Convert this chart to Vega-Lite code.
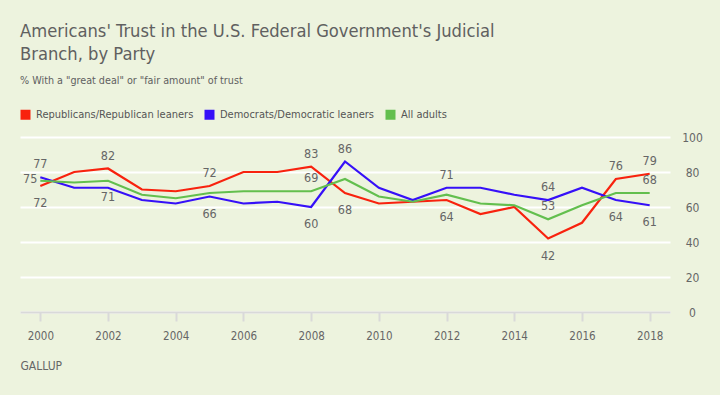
{
  "$schema": "https://vega.github.io/schema/vega-lite/v6.json",
  "autosize": "none",
  "width": 650,
  "height": 175,
  "padding": {"left": 20, "top": 137, "right": 50, "bottom": 83},
  "background": "#edf3de",
  "title": {
    "text": ["Americans' Trust in the U.S. Federal Government's Judicial", "Branch, by Party"],
    "subtitle": "% With a \"great deal\" or \"fair amount\" of trust",
    "anchor": "start",
    "frame": "group",
    "font": "DejaVu Sans Condensed, Liberation Sans, sans-serif",
    "fontSize": 18.2,
    "fontWeight": "normal",
    "color": "#606060",
    "lineHeight": 22.7,
    "subtitleFont": "DejaVu Sans Condensed, Liberation Sans, sans-serif",
    "subtitleFontSize": 10.7,
    "subtitleColor": "#606060",
    "subtitlePadding": 12,
    "offset": 22
  },
  "config": {
    "view": {"stroke": null},
    "font": "DejaVu Sans Condensed, Liberation Sans, sans-serif"
  },
  "data": {
    "values": [
      {"year": 2000, "party": "Republicans/Republican leaners", "value": 72},
      {"year": 2001, "party": "Republicans/Republican leaners", "value": 80},
      {"year": 2002, "party": "Republicans/Republican leaners", "value": 82},
      {"year": 2003, "party": "Republicans/Republican leaners", "value": 70},
      {"year": 2004, "party": "Republicans/Republican leaners", "value": 69},
      {"year": 2005, "party": "Republicans/Republican leaners", "value": 72},
      {"year": 2006, "party": "Republicans/Republican leaners", "value": 80},
      {"year": 2007, "party": "Republicans/Republican leaners", "value": 80},
      {"year": 2008, "party": "Republicans/Republican leaners", "value": 83},
      {"year": 2009, "party": "Republicans/Republican leaners", "value": 68},
      {"year": 2010, "party": "Republicans/Republican leaners", "value": 62},
      {"year": 2011, "party": "Republicans/Republican leaners", "value": 63},
      {"year": 2012, "party": "Republicans/Republican leaners", "value": 64},
      {"year": 2013, "party": "Republicans/Republican leaners", "value": 56},
      {"year": 2014, "party": "Republicans/Republican leaners", "value": 60},
      {"year": 2015, "party": "Republicans/Republican leaners", "value": 42},
      {"year": 2016, "party": "Republicans/Republican leaners", "value": 51},
      {"year": 2017, "party": "Republicans/Republican leaners", "value": 76},
      {"year": 2018, "party": "Republicans/Republican leaners", "value": 79},
      {"year": 2000, "party": "Democrats/Democratic leaners", "value": 77},
      {"year": 2001, "party": "Democrats/Democratic leaners", "value": 71},
      {"year": 2002, "party": "Democrats/Democratic leaners", "value": 71},
      {"year": 2003, "party": "Democrats/Democratic leaners", "value": 64},
      {"year": 2004, "party": "Democrats/Democratic leaners", "value": 62},
      {"year": 2005, "party": "Democrats/Democratic leaners", "value": 66},
      {"year": 2006, "party": "Democrats/Democratic leaners", "value": 62},
      {"year": 2007, "party": "Democrats/Democratic leaners", "value": 63},
      {"year": 2008, "party": "Democrats/Democratic leaners", "value": 60},
      {"year": 2009, "party": "Democrats/Democratic leaners", "value": 86},
      {"year": 2010, "party": "Democrats/Democratic leaners", "value": 71},
      {"year": 2011, "party": "Democrats/Democratic leaners", "value": 64},
      {"year": 2012, "party": "Democrats/Democratic leaners", "value": 71},
      {"year": 2013, "party": "Democrats/Democratic leaners", "value": 71},
      {"year": 2014, "party": "Democrats/Democratic leaners", "value": 67},
      {"year": 2015, "party": "Democrats/Democratic leaners", "value": 64},
      {"year": 2016, "party": "Democrats/Democratic leaners", "value": 71},
      {"year": 2017, "party": "Democrats/Democratic leaners", "value": 64},
      {"year": 2018, "party": "Democrats/Democratic leaners", "value": 61},
      {"year": 2000, "party": "All adults", "value": 75},
      {"year": 2001, "party": "All adults", "value": 74},
      {"year": 2002, "party": "All adults", "value": 75},
      {"year": 2003, "party": "All adults", "value": 67},
      {"year": 2004, "party": "All adults", "value": 65},
      {"year": 2005, "party": "All adults", "value": 68},
      {"year": 2006, "party": "All adults", "value": 69},
      {"year": 2007, "party": "All adults", "value": 69},
      {"year": 2008, "party": "All adults", "value": 69},
      {"year": 2009, "party": "All adults", "value": 76},
      {"year": 2010, "party": "All adults", "value": 66},
      {"year": 2011, "party": "All adults", "value": 63},
      {"year": 2012, "party": "All adults", "value": 67},
      {"year": 2013, "party": "All adults", "value": 62},
      {"year": 2014, "party": "All adults", "value": 61},
      {"year": 2015, "party": "All adults", "value": 53},
      {"year": 2016, "party": "All adults", "value": 61},
      {"year": 2017, "party": "All adults", "value": 68},
      {"year": 2018, "party": "All adults", "value": 68}
    ]
  },
  "encoding": {
    "x": {
      "field": "year",
      "type": "quantitative",
      "scale": {"domain": [1999.4, 2018.6], "nice": false, "zero": false},
      "axis": {
        "values": [2000, 2002, 2004, 2006, 2008, 2010, 2012, 2014, 2016, 2018],
        "format": "d",
        "grid": false,
        "domainColor": "#d9d9d9",
        "domainWidth": 2,
        "tickColor": "#d9d9d9",
        "tickWidth": 2,
        "tickSize": 9,
        "labelPadding": 9,
        "labelFontSize": 11.5,
        "labelColor": "#666666",
        "zindex": 1,
        "title": "GALLUP",
        "titleAnchor": "start",
        "titleAlign": "left",
        "titleX": 0,
        "titleY": 48,
        "titleFontSize": 12,
        "titleFontWeight": "normal",
        "titleColor": "#666666"
      }
    },
    "y": {
      "field": "value",
      "type": "quantitative",
      "scale": {"domain": [0, 100], "nice": false},
      "axis": {
        "orient": "right",
        "values": [0, 20, 40, 60, 80, 100],
        "domain": false,
        "ticks": false,
        "gridColor": "#ffffff",
        "gridWidth": 2,
        "gridOpacity": 1,
        "labelAlign": "center",
        "labelPadding": 22,
        "labelFontSize": 12,
        "labelColor": "#666666",
        "title": null
      }
    },
    "color": {
      "field": "party",
      "type": "nominal",
      "scale": {
        "domain": ["Republicans/Republican leaners", "Democrats/Democratic leaners", "All adults"],
        "range": ["#f8220e", "#3610f8", "#63bf4e"]
      },
      "legend": {
        "title": null,
        "orient": "top",
        "direction": "horizontal",
        "symbolType": "square",
        "symbolSize": 16,
        "symbolStrokeWidth": 6,
        "symbolOpacity": 1,
        "labelFontSize": 11,
        "labelLimit": 400,
        "labelColor": "#555555",
        "labelOffset": 5,
        "columnPadding": 1,
        "offset": 8
      }
    }
  },
  "layer": [
    {
      "mark": {"type": "line", "strokeWidth": 2.2}
    },
    {
      "transform": [{"filter": "(datum.party == 'Republicans/Republican leaners' && indexof([2002, 2005, 2008, 2017, 2018], datum.year) >= 0) || (datum.party == 'Democrats/Democratic leaners' && indexof([2000, 2009, 2012, 2015], datum.year) >= 0) || (datum.party == 'All adults' && indexof([2008, 2015, 2018], datum.year) >= 0)"}],
      "mark": {"type": "text", "dy": -13, "fontSize": 12.5, "color": "#666666", "baseline": "middle"},
      "encoding": {"text": {"field": "value", "type": "quantitative"}, "color": {"value": "#666666"}}
    },
    {
      "transform": [{"filter": "(datum.party == 'Republicans/Republican leaners' && indexof([2000, 2009, 2012, 2015], datum.year) >= 0) || (datum.party == 'Democrats/Democratic leaners' && indexof([2005, 2008, 2017, 2018], datum.year) >= 0)"}],
      "mark": {"type": "text", "dy": 17, "fontSize": 12.5, "color": "#666666", "baseline": "middle"},
      "encoding": {"text": {"field": "value", "type": "quantitative"}, "color": {"value": "#666666"}}
    },
    {
      "transform": [{"filter": "datum.party == 'Democrats/Democratic leaners' && datum.year == 2002"}],
      "mark": {"type": "text", "dy": 9, "fontSize": 12.5, "color": "#666666", "baseline": "middle"},
      "encoding": {"text": {"field": "value", "type": "quantitative"}, "color": {"value": "#666666"}}
    },
    {
      "transform": [{"filter": "datum.party == 'All adults' && datum.year == 2000"}],
      "mark": {"type": "text", "dx": -3, "dy": -2, "align": "right", "fontSize": 12.5, "color": "#666666", "baseline": "middle"},
      "encoding": {"text": {"field": "value", "type": "quantitative"}, "color": {"value": "#666666"}}
    }
  ]
}
